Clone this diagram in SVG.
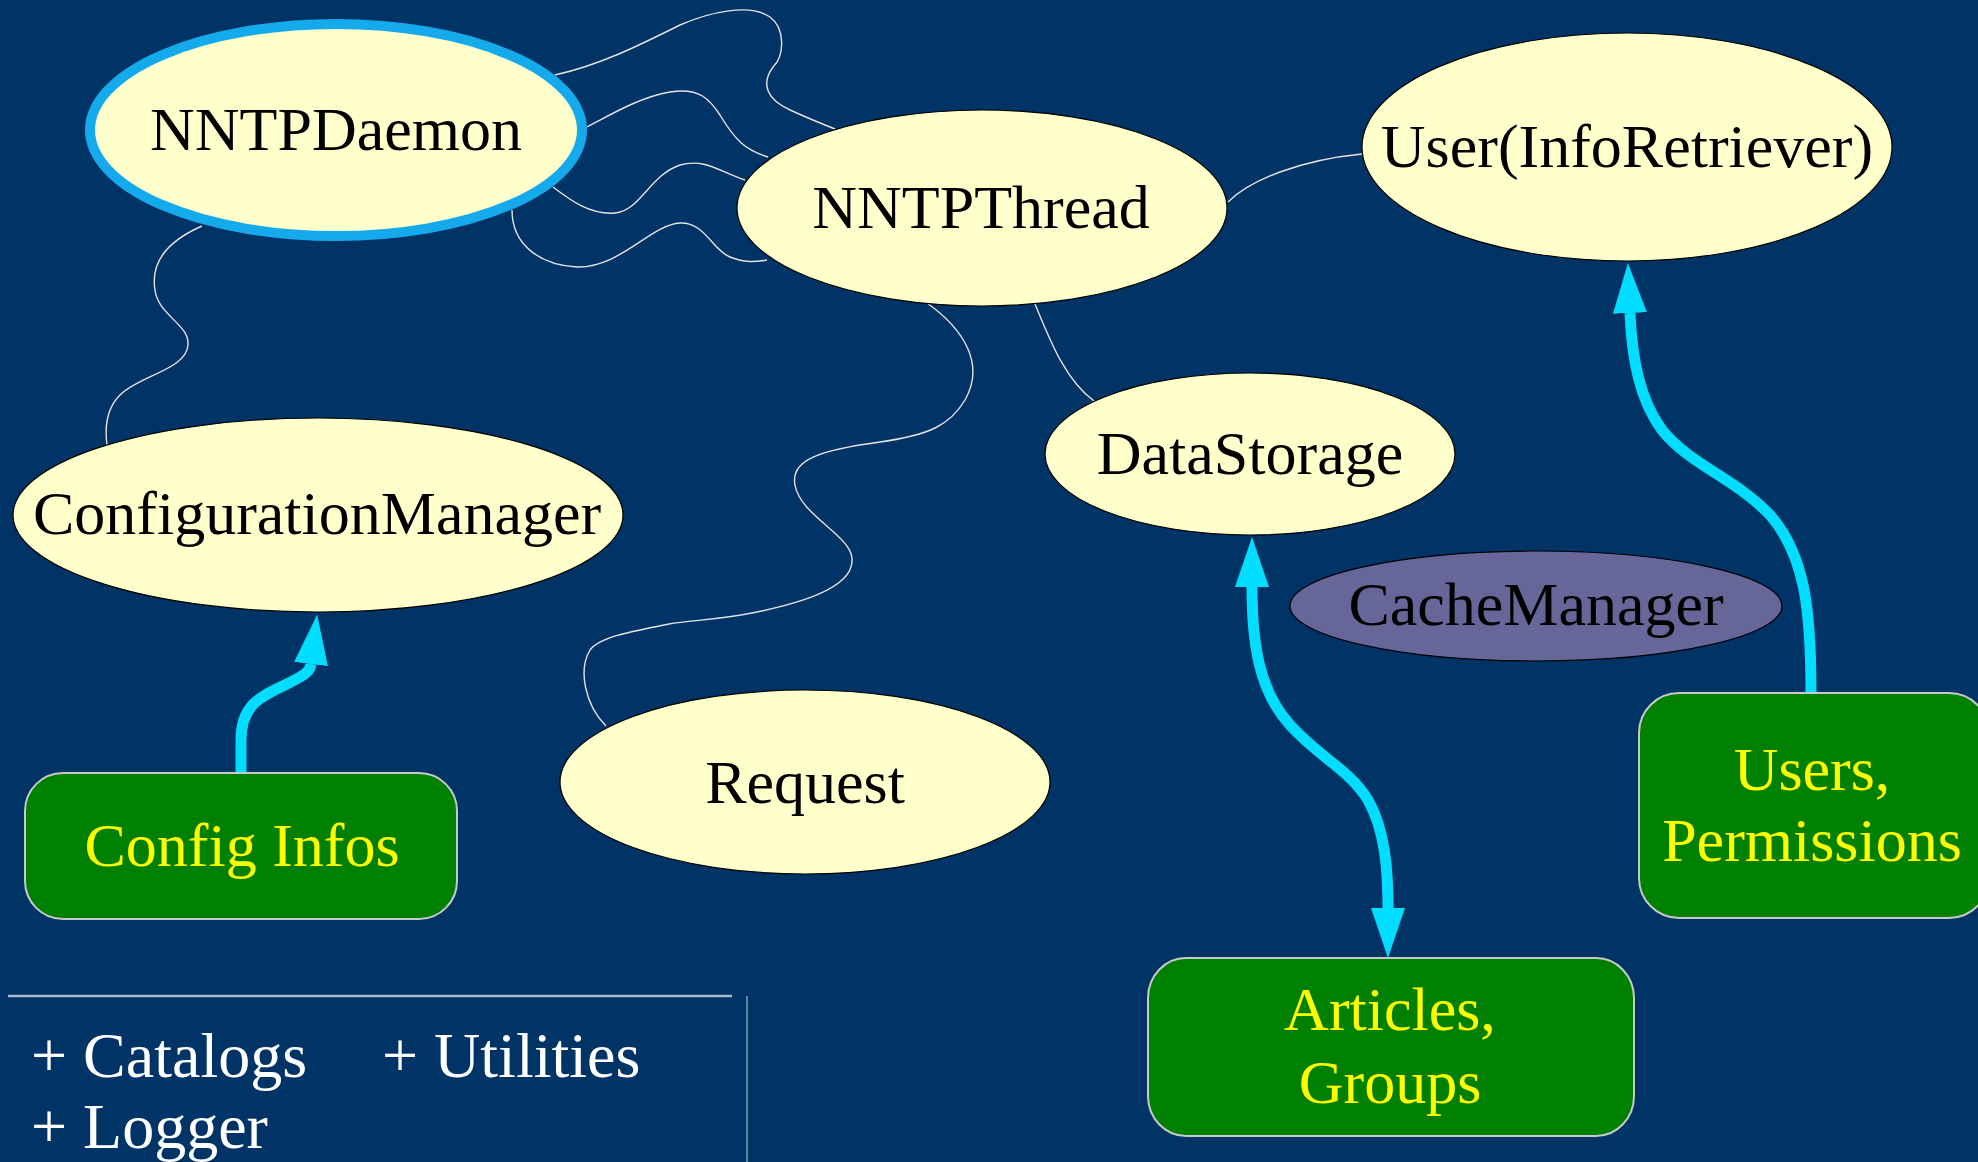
<svg xmlns="http://www.w3.org/2000/svg" width="1978" height="1162" viewBox="0 0 1978 1162">
<defs>
<style>
.bg{fill:#003366}
.node{fill:#ffffcc;stroke:#000;stroke-width:1.2}
.cache{fill:#666699;stroke:#000;stroke-width:1.2}
.box{fill:#008000;stroke:#c8c8c8;stroke-width:2}
.lbl{font-family:"Liberation Serif","Times New Roman",serif;font-size:62px;fill:#000;text-anchor:middle}
.ylbl{font-family:"Liberation Serif","Times New Roman",serif;font-size:62px;fill:#ffff00;text-anchor:middle}
.leg{font-family:"Liberation Serif","Times New Roman",serif;font-size:64px;fill:#ffffff}
.thin{fill:none;stroke:#e4e4e4;stroke-width:1.4}
.thick{fill:none;stroke:#00ddff;stroke-width:11}
</style>
<marker id="ah" markerUnits="userSpaceOnUse" viewBox="0 0 50 34" markerWidth="50" markerHeight="34" refX="0" refY="17" orient="auto-start-reverse">
<path d="M0,0 L50,17 L0,34 Z" fill="#00ddff"/>
</marker>
</defs>
<rect class="bg" x="0" y="0" width="1978" height="1162"/>

<g id="connectors">
<path class="thin" d="M555,75 C600,65 640,45 680,25 C710,12 750,3 770,17 C785,28 785,55 773,67 C760,85 768,100 790,110 C805,117 820,123 835,129"/>
<path class="thin" d="M587,127 C610,115 640,97 670,92 C700,87 710,100 720,115 C735,140 745,150 768,157"/>
<path class="thin" d="M553,187 C570,200 590,215 615,213 C640,211 650,175 680,165 C705,158 720,172 745,180"/>
<path class="thin" d="M512,210 C512,245 540,265 577,267 C620,268 650,225 680,223 C705,222 712,250 730,257 C745,263 755,262 767,260"/>
<path class="thin" d="M202,226 C170,240 150,260 155,290 C158,315 190,325 188,345 C186,370 140,375 120,395 C105,410 105,430 107,445"/>
<path class="thin" d="M927,303 C965,330 985,365 965,400 C950,425 930,435 880,442 C820,450 790,460 795,485 C800,515 850,535 852,558 C855,590 790,605 757,612 C720,620 690,620 669,624 C640,630 600,636 590,650 C578,670 585,705 606,726"/>
<path class="thin" d="M1035,304 C1050,340 1065,380 1094,401"/>
<path class="thin" d="M1228,202 C1250,180 1300,160 1362,154"/>
<path class="thick" marker-end="url(#ah)" d="M241,773 L241,740 C241,705 260,697 285,685 C305,675 310,672 311,664"/>
<path class="thick" marker-start="url(#ah)" marker-end="url(#ah)" d="M1252,587 C1252,640 1258,690 1290,725 C1320,758 1350,770 1368,800 C1385,830 1388,870 1388,908"/>
<path class="thick" marker-end="url(#ah)" d="M1811,693 C1811,610 1805,555 1770,515 C1735,478 1690,465 1662,430 C1640,400 1632,360 1630,313"/>
</g>

<g id="NNTPDaemon">
<ellipse cx="336" cy="130" rx="246" ry="106" fill="#ffffcc" stroke="#14aaec" stroke-width="10"/>
<text class="lbl" x="336" y="150">NNTPDaemon</text>
</g>
<g id="NNTPThread">
<ellipse class="node" cx="982" cy="208" rx="245" ry="98"/>
<text class="lbl" x="981" y="228">NNTPThread</text>
</g>
<g id="User">
<ellipse class="node" cx="1627" cy="147" rx="265" ry="114"/>
<text class="lbl" x="1627" y="167">User(InfoRetriever)</text>
</g>
<g id="ConfigurationManager">
<ellipse class="node" cx="318" cy="515" rx="305" ry="97"/>
<text class="lbl" x="317" y="534">ConfigurationManager</text>
</g>
<g id="DataStorage">
<ellipse class="node" cx="1250" cy="454" rx="205" ry="81"/>
<text class="lbl" x="1250" y="474">DataStorage</text>
</g>
<g id="CacheManager">
<ellipse class="cache" cx="1536" cy="606" rx="246" ry="55"/>
<text class="lbl" x="1536" y="625">CacheManager</text>
</g>
<g id="Request">
<ellipse class="node" cx="805" cy="782" rx="245" ry="92"/>
<text class="lbl" x="805" y="803">Request</text>
</g>
<g id="ConfigInfos">
<rect class="box" x="25" y="773" width="432" height="146" rx="38" ry="38"/>
<text class="ylbl" x="242" y="866">Config Infos</text>
</g>
<g id="UsersPermissions">
<rect class="box" x="1639" y="693" width="350" height="225" rx="40" ry="40"/>
<text class="ylbl" x="1812" y="790">Users,</text>
<text class="ylbl" x="1812" y="861">Permissions</text>
</g>
<g id="ArticlesGroups">
<rect class="box" x="1148" y="958" width="486" height="178" rx="38" ry="40"/>
<text class="ylbl" x="1390" y="1030">Articles,</text>
<text class="ylbl" x="1390" y="1103">Groups</text>
</g>
<g id="legend">
<line x1="8" y1="996" x2="732" y2="996" stroke="#a8b8c8" stroke-width="2.5"/>
<line x1="747" y1="996" x2="747" y2="1162" stroke="#a8b8c8" stroke-width="1.2"/>
<text class="leg" x="31" y="1077">+ Catalogs</text>
<text class="leg" x="382" y="1077">+ Utilities</text>
<text class="leg" x="31" y="1148">+ Logger</text>
</g>
</svg>
